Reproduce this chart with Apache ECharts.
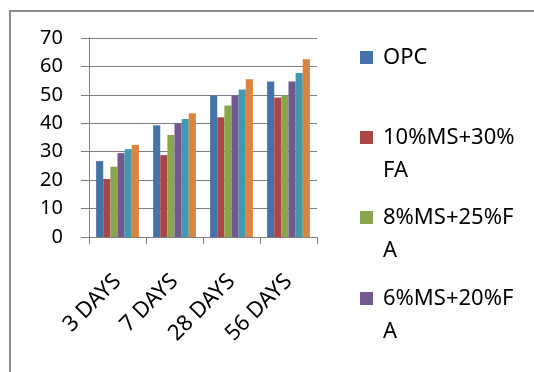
<!DOCTYPE html>
<html>
<head>
<meta charset="utf-8">
<script src="https://cdn.jsdelivr.net/npm/echarts@6/dist/echarts.min.js"></script>
<style>
html,body{margin:0;padding:0;background:#fff;}
#chart{width:534px;height:372px;}
</style>
</head>
<body>
<div id="chart"></div>
<script>
var categories = ['3 DAYS', '7 DAYS', '28 DAYS', '56 DAYS'];
var seriesNames = ['OPC', '10%MS+30%FA', '8%MS+25%FA', '6%MS+20%FA', '4%MS+15%FA', '2%MS+10%FA'];
var opc      = [26.7, 39.3, 49.8, 54.7];
var ms10fa30 = [20.4, 28.8, 42.1, 49.1];
var ms8fa25  = [24.7, 35.9, 46.3, 49.8];
var ms6fa20  = [29.5, 40.1, 49.8, 54.7];
var ms4fa15  = [30.9, 41.5, 51.9, 57.7];
var ms2fa10  = [32.4, 43.5, 55.5, 62.5];
var yTicks = [0, 10, 20, 30, 40, 50, 60, 70];

var values = [opc, ms10fa30, ms8fa25, ms6fa20, ms4fa15, ms2fa10];
var colors = ['#4572A7', '#AA4643', '#89A54E', '#71588F', '#4198AF', '#DB843D'];
var FONT = 'Noto Sans';

var chart = echarts.init(document.getElementById('chart'));

var legendTops = [41, 88, 168, 249];
var legends = legendTops.map(function (t, i) {
  return {
    data: [seriesNames[i]],
    left: 360,
    top: t,
    padding: 0,
    itemWidth: 13,
    itemHeight: 13,
    icon: 'rect',
    selectedMode: false,
    formatter: function (name) { return i === 0 ? name : '\n' + name; },
    textStyle: {
      fontFamily: FONT,
      fontSize: 22,
      color: '#000',
      lineHeight: 33,
      width: 138,
      overflow: 'breakAll',
      padding: [0, 0, 0, 5]
    }
  };
});

chart.setOption({
  animation: false,
  backgroundColor: '#fff',
  graphic: [{
    type: 'rect',
    shape: { x: 10, y: 11, width: 700, height: 500 },
    style: { fill: 'none', stroke: '#8c8c8c', lineWidth: 2 },
    silent: true
  }],
  legend: legends,
  grid: { left: 89, top: 38, right: 217, bottom: 135 },
  xAxis: {
    type: 'category',
    data: categories,
    axisLine: { lineStyle: { color: '#7f7f7f', width: 1 } },
    axisTick: { show: true, length: 7, lineStyle: { color: '#7f7f7f' } },
    axisLabel: {
      rotate: 45,
      margin: 41,
      fontFamily: FONT,
      fontSize: 22,
      color: '#000',
      interval: 0
    }
  },
  yAxis: {
    type: 'value',
    min: yTicks[0],
    max: yTicks[yTicks.length - 1],
    interval: 10,
    axisLine: { show: true, lineStyle: { color: '#7f7f7f', width: 1 } },
    axisTick: { show: true, length: 8, lineStyle: { color: '#7f7f7f' } },
    splitLine: { lineStyle: { color: '#7f7f7f', width: 1 } },
    axisLabel: {
      margin: 26,
      fontFamily: FONT,
      fontSize: 20,
      color: '#000'
    }
  },
  series: values.map(function (v, i) {
    return {
      name: seriesNames[i],
      type: 'bar',
      data: v,
      barGap: '0%',
      barCategoryGap: '25%',
      itemStyle: { color: colors[i] }
    };
  })
});
</script>
</body>
</html>
